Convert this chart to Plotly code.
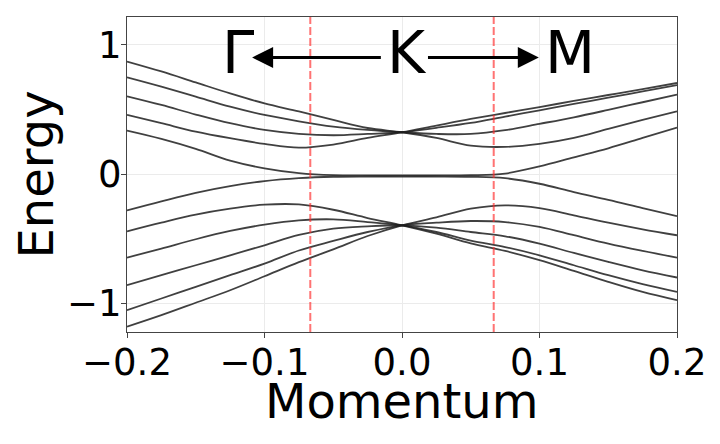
import plotly.graph_objects as go

# ---- data ----
k = [-0.2, -0.175, -0.15, -0.125, -0.1, -0.075, -0.05, -0.025, 0.0,
     0.025, 0.05, 0.075, 0.1, 0.125, 0.15, 0.175, 0.2]

band_u1 = [0.871, 0.794, 0.709, 0.624, 0.547, 0.485, 0.419, 0.357, 0.324,
           0.280, 0.221, 0.211, 0.234, 0.280, 0.350, 0.419, 0.486]
band_u2 = [0.748, 0.676, 0.599, 0.522, 0.458, 0.409, 0.368, 0.342, 0.324,
           0.311, 0.311, 0.340, 0.389, 0.440, 0.497, 0.556, 0.615]
band_u3 = [0.602, 0.535, 0.461, 0.394, 0.342, 0.312, 0.301, 0.311, 0.324,
           0.358, 0.396, 0.445, 0.494, 0.543, 0.591, 0.640, 0.689]
band_u4 = [0.458, 0.394, 0.329, 0.278, 0.234, 0.205, 0.229, 0.280, 0.324,
           0.376, 0.427, 0.473, 0.519, 0.566, 0.612, 0.658, 0.705]
band_c = [0.337, 0.273, 0.196, 0.105, 0.045, 0.008, -0.008, -0.010, -0.010,
          -0.010, -0.008, 0.005, 0.060, 0.130, 0.200, 0.280, 0.360]
band_v = [-0.280, -0.210, -0.144, -0.092, -0.054, -0.031, -0.020, -0.018, -0.018,
          -0.018, -0.020, -0.031, -0.074, -0.139, -0.198, -0.262, -0.324]
band_l2 = [-0.442, -0.375, -0.313, -0.267, -0.236, -0.234, -0.275, -0.339, -0.395,
           -0.460, -0.535, -0.593, -0.665, -0.748, -0.832, -0.910, -0.974]
band_l3 = [-0.645, -0.575, -0.503, -0.439, -0.390, -0.357, -0.349, -0.370, -0.395,
           -0.447, -0.514, -0.563, -0.627, -0.704, -0.781, -0.850, -0.910]
band_l4 = [-0.858, -0.781, -0.704, -0.627, -0.550, -0.470, -0.421, -0.403, -0.395,
           -0.413, -0.447, -0.480, -0.537, -0.609, -0.678, -0.743, -0.799]
band_l5 = [-1.051, -0.961, -0.871, -0.781, -0.691, -0.590, -0.516, -0.447, -0.395,
           -0.375, -0.362, -0.370, -0.408, -0.472, -0.537, -0.593, -0.645]
band_l6 = [-1.179, -1.090, -0.994, -0.897, -0.789, -0.680, -0.581, -0.478, -0.395,
           -0.334, -0.267, -0.241, -0.262, -0.318, -0.375, -0.426, -0.472]

bands = [band_u1, band_u2, band_u3, band_u4, band_c, band_v,
         band_l2, band_l3, band_l4, band_l5, band_l6]

boundaries = [-0.0667, 0.0667]

x_ticks = [-0.2, -0.1, 0.0, 0.1, 0.2]
x_tick_labels = ["\u22120.2", "\u22120.1", "0.0", "0.1", "0.2"]
y_ticks = [-1, 0, 1]
y_tick_labels = ["\u22121", "0", "1"]
x_title = "Momentum"
y_title = "Energy"

point_labels = ["\u0393", "K", "M"]
point_k = [-0.1196, 0.0036, 0.1223]
label_e = 0.935
arrow_tail_k = [-0.0143, 0.0178]
arrow_tip_k = [-0.109, 0.0995]
arrow_e = 0.902

FONT = "DejaVu Sans"

fig = go.Figure()
for b in bands:
    fig.add_trace(go.Scatter(x=k, y=b, mode="lines",
                             line=dict(color="rgba(30,30,30,0.85)", width=1.8,
                                       shape="spline", smoothing=1.0),
                             showlegend=False, hoverinfo="skip"))

for bx in boundaries:
    fig.add_shape(type="line", xref="x", yref="paper", x0=bx, x1=bx, y0=0, y1=1,
                  line=dict(color="rgba(255,40,40,0.65)", width=2, dash="8px,3px"))

for lab, px in zip(point_labels, point_k):
    fig.add_annotation(x=px, y=label_e, xref="x", yref="y", text=lab,
                       showarrow=False, font=dict(family=FONT, size=58, color="black"),
                       xanchor="center", yanchor="middle")

for tail, tip in zip(arrow_tail_k, arrow_tip_k):
    fig.add_annotation(x=tip, y=arrow_e, ax=tail, ay=arrow_e, xref="x", yref="y",
                       axref="x", ayref="y", text="", showarrow=True,
                       arrowhead=2, arrowsize=1.4, arrowwidth=3, arrowcolor="black",
                       standoff=0, startstandoff=0)

# x-axis title placed as a paper-anchored annotation below the tick labels
fig.add_annotation(x=0.5, y=-0.218, xref="paper", yref="paper", text=x_title,
                   showarrow=False, font=dict(family=FONT, size=48, color="black"),
                   xanchor="center", yanchor="middle")

axis_common = dict(showline=True, mirror=True, linecolor="#444444", linewidth=1.2,
                   ticks="outside", ticklen=5, tickcolor="#444444",
                   showgrid=True, gridcolor="#ebebeb", gridwidth=1, zeroline=False,
                   automargin=False, ticklabelstandoff=-8,
                   tickfont=dict(family=FONT, size=37, color="black"))

fig.update_xaxes(range=[-0.2, 0.2], tickvals=x_ticks, ticktext=x_tick_labels,
                 **axis_common)
fig.update_yaxes(range=[-1.22, 1.215], tickvals=y_ticks, ticktext=y_tick_labels,
                 title=dict(text=y_title, font=dict(family=FONT, size=48, color="black"),
                            standoff=10),
                 **axis_common)

# the page puts the figure 8px from the top-left corner of the window
fig.update_layout(width=712, height=436, paper_bgcolor="white", plot_bgcolor="white",
                  margin=dict(l=119, r=43, t=9, b=112, autoexpand=False),
                  showlegend=False)

fig.write_html("out.html")
